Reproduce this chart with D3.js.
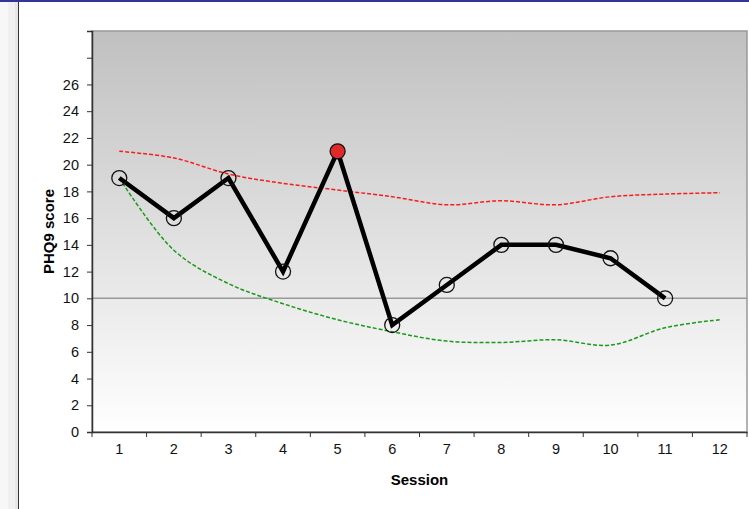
<!DOCTYPE html>
<html>
<head>
<meta charset="utf-8">
<script src="https://cdn.jsdelivr.net/npm/d3@7"></script>
<style>
  body { margin: 0; background: #fff; }
  svg text { font-family: "Liberation Sans", Arial, sans-serif; }
</style>
</head>
<body>
<script>
// chart values
var sessions = [1, 2, 3, 4, 5, 6, 7, 8, 9, 10, 11, 12];
var scores = [19, 16, 19, 12, 21, 8, 11, 14, 14, 13, 10];
var upperBand = [21, 20.5, 19.3, 18.6, 18.1, 17.6, 17.0, 17.3, 17.0, 17.6, 17.8, 17.9];
var lowerBand = [19, 13.6, 11.1, 9.6, 8.4, 7.5, 6.8, 6.7, 6.9, 6.5, 7.8, 8.4];
var yTicks = [0, 2, 4, 6, 8, 10, 12, 14, 16, 18, 20, 22, 24, 26, 28, 30];
var yLabels = [0, 2, 4, 6, 8, 10, 12, 14, 16, 18, 20, 22, 24, 26];
var cutoff = 10;
var flagged = 5;

var width = 749,
    height = 509,
    plotLeft = 92,
    plotRight = 747,
    plotTop = 31,
    plotBottom = 432;

var svg = d3.select("body").append("svg")
            .attr("width", width)
            .attr("height", height);

var defs = svg.append("defs");
var grad = defs.append("linearGradient")
               .attr("id", "bg")
               .attr("x1", 0).attr("y1", 0)
               .attr("x2", 0).attr("y2", 1);
grad.append("stop").attr("offset", "0%").attr("stop-color", "#c0c0c0");
grad.append("stop").attr("offset", "100%").attr("stop-color", "#ffffff");

// left strip + top bar
svg.append("rect").attr("x", 0).attr("y", 0).attr("width", 8).attr("height", height).attr("fill", "#f7f7f7");
svg.append("rect").attr("x", 8).attr("y", 0).attr("width", 7).attr("height", height).attr("fill", "#f0f0f0");
svg.append("rect").attr("x", 15).attr("y", 0).attr("width", 3).attr("height", height).attr("fill", "#e6e6e6");
svg.append("line").attr("x1", 18.5).attr("x2", 18.5).attr("y1", 0).attr("y2", height)
   .attr("stroke", "#333").attr("stroke-width", 1);
svg.append("rect").attr("x", 0).attr("y", 0).attr("width", width).attr("height", 2).attr("fill", "#333399");

var x = d3.scaleBand().domain(sessions).range([plotLeft, plotRight]);
var y = d3.scaleLinear().domain([0, 30]).range([plotBottom, plotTop]);

// plot area
svg.append("rect")
   .attr("x", plotLeft).attr("y", plotTop)
   .attr("width", plotRight - plotLeft).attr("height", plotBottom - plotTop)
   .attr("fill", "url(#bg)")
   .attr("stroke", "#999").attr("stroke-width", 1.5);

svg.append("line")
   .attr("x1", plotLeft).attr("x2", plotRight)
   .attr("y1", y(cutoff)).attr("y2", y(cutoff))
   .attr("stroke", "#999").attr("stroke-width", 1.5);

// axes
var yAxis = d3.axisLeft(y).tickValues(yTicks).tickSize(5).tickPadding(8)
              .tickFormat(function(d) { return yLabels.indexOf(d) >= 0 ? d : ""; });
var gy = svg.append("g").attr("transform", "translate(" + plotLeft + ",0)").call(yAxis);

var xAxis = d3.axisBottom(x).tickSize(0).tickPadding(12);
var gx = svg.append("g").attr("transform", "translate(0," + plotBottom + ")").call(xAxis);
gx.selectAll(".xtick").data(d3.range(sessions.length + 1)).enter()
  .append("line")
  .attr("x1", function(i) { return plotLeft + i * x.step(); })
  .attr("x2", function(i) { return plotLeft + i * x.step(); })
  .attr("y1", 0).attr("y2", 5)
  .attr("stroke", "#333");

[gx, gy].forEach(function(g) {
    g.attr("font-size", 14.5).attr("font-family", "Liberation Sans, Arial, sans-serif");
    g.select(".domain").attr("stroke", "#333").attr("stroke-width", 1.5);
    g.selectAll(".tick line").attr("stroke", "#333");
    g.selectAll("text").attr("fill", "#111");
});

var cx = function(d, i) { return x(sessions[i]) + x.bandwidth() / 2; };

var smooth = d3.line()
               .x(cx)
               .y(function(d) { return y(d); })
               .curve(d3.curveCatmullRom.alpha(0.5));

svg.append("path").datum(upperBand)
   .attr("d", smooth).attr("fill", "none")
   .attr("stroke", "#ff1a1a").attr("stroke-width", 1.5)
   .attr("stroke-dasharray", "4,2");

svg.append("path").datum(lowerBand)
   .attr("d", smooth).attr("fill", "none")
   .attr("stroke", "#1a991a").attr("stroke-width", 1.5)
   .attr("stroke-dasharray", "4,2");

var straight = d3.line().x(cx).y(function(d) { return y(d); });

svg.append("path").datum(scores)
   .attr("d", straight).attr("fill", "none")
   .attr("stroke", "#000").attr("stroke-width", 4.5)
   .attr("stroke-linejoin", "miter");

svg.selectAll(".marker").data(scores).enter()
   .append("circle")
   .attr("class", "marker")
   .attr("cx", cx)
   .attr("cy", function(d) { return y(d); })
   .attr("r", 7.5)
   .attr("fill", function(d, i) { return sessions[i] === flagged ? "#e02a2a" : "none"; })
   .attr("stroke", "#111")
   .attr("stroke-width", 1.3);

// axis titles
svg.append("text")
   .attr("x", (plotLeft + plotRight) / 2).attr("y", 485)
   .attr("text-anchor", "middle")
   .attr("font-size", 15).attr("font-weight", "bold")
   .text("Session");

svg.append("text")
   .attr("transform", "translate(54," + ((plotTop + plotBottom) / 2) + ") rotate(-90)")
   .attr("text-anchor", "middle")
   .attr("font-size", 15).attr("font-weight", "bold")
   .text("PHQ9 score");
</script>
</body>
</html>
